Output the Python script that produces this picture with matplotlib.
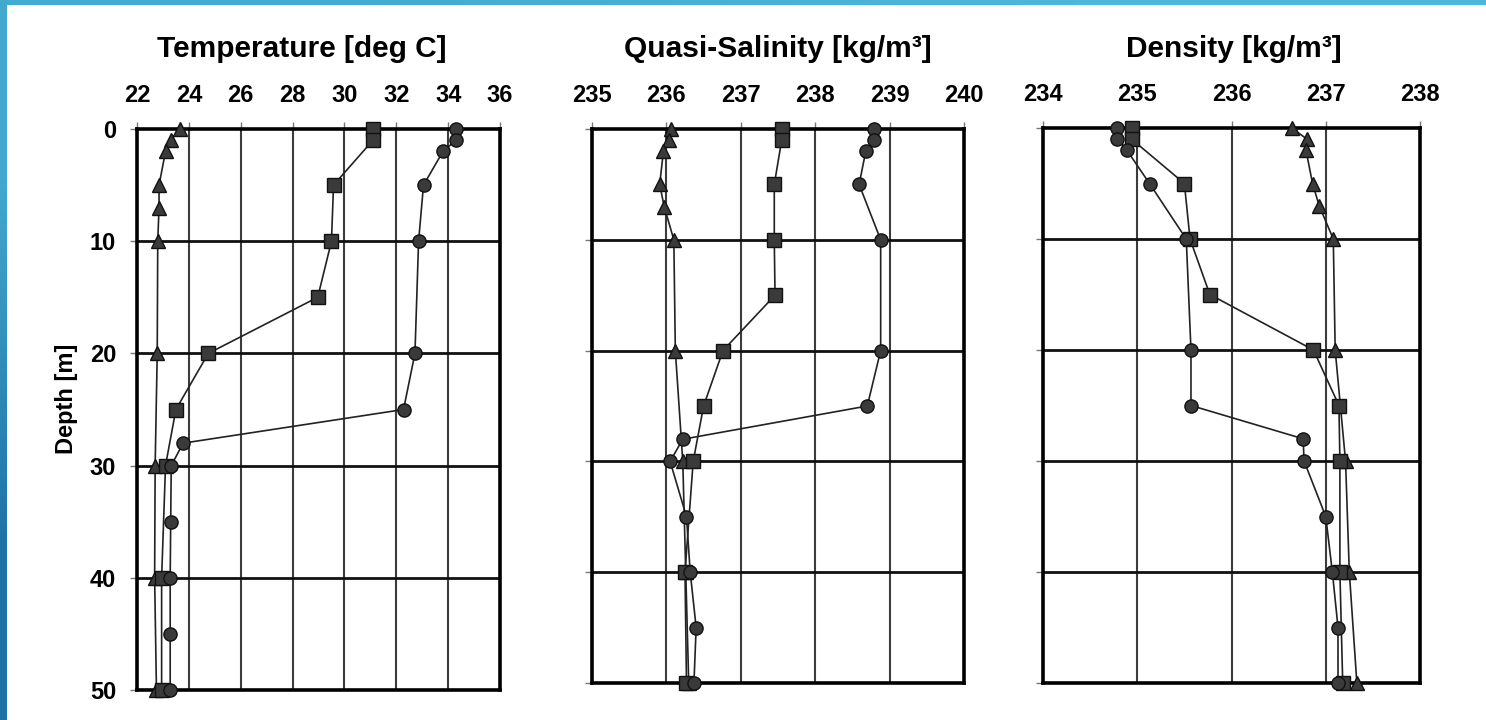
import numpy as np
import matplotlib
matplotlib.use("Agg")
import matplotlib.pyplot as plt

plt.rcParams['font.family'] = ['Liberation Sans', 'DejaVu Sans']
plt.rcParams['font.weight'] = 'bold'

# ---------------- data ----------------
# Temperature [deg C]
temp_tri_depth = [0, 1, 2, 5, 7, 10, 20, 30, 40, 50]
temp_tri_val = [23.65, 23.3, 23.1, 22.85, 22.85, 22.8, 22.78, 22.7, 22.68, 22.75]
temp_sq_depth = [0, 1, 5, 10, 15, 20, 25, 30, 40, 50]
temp_sq_val = [31.1, 31.1, 29.58, 29.5, 28.97, 24.75, 23.5, 23.1, 22.95, 22.95]
temp_ci_depth = [0, 1, 2, 5, 10, 20, 25, 28, 30, 35, 40, 45, 50]
temp_ci_val = [34.3, 34.3, 33.8, 33.05, 32.86, 32.72, 32.28, 23.78, 23.32, 23.3, 23.28, 23.28, 23.28]

# Quasi-Salinity [kg/m3]
sal_tri_depth = [0, 1, 2, 5, 7, 10, 20, 30, 40, 50]
sal_tri_val = [236.06, 236.03, 235.96, 235.91, 235.97, 236.1, 236.12, 236.22, 236.26, 236.3]
sal_sq_depth = [0, 1, 5, 10, 15, 20, 25, 30, 40, 50]
sal_sq_val = [237.55, 237.55, 237.45, 237.45, 237.46, 236.76, 236.5, 236.36, 236.25, 236.27]
sal_ci_depth = [0, 1, 2, 5, 10, 20, 25, 28, 30, 35, 40, 45, 50]
sal_ci_val = [238.79, 238.79, 238.68, 238.59, 238.88, 238.88, 238.7, 236.22, 236.05, 236.27, 236.32, 236.4, 236.37]

# Density [kg/m3]
den_tri_depth = [0, 1, 2, 5, 7, 10, 20, 30, 40, 50]
den_tri_val = [236.64, 236.8, 236.79, 236.86, 236.93, 237.08, 237.1, 237.21, 237.25, 237.33]
den_sq_depth = [0, 1, 5, 10, 15, 20, 25, 30, 40, 50]
den_sq_val = [234.94, 234.94, 235.5, 235.56, 235.77, 236.87, 237.14, 237.15, 237.15, 237.18]
den_ci_depth = [0, 1, 2, 5, 10, 20, 25, 28, 30, 35, 40, 45, 50]
den_ci_val = [234.79, 234.79, 234.89, 235.13, 235.52, 235.57, 235.57, 236.76, 236.77, 237.0, 237.07, 237.13, 237.13]

titles = ["Temperature [deg C]", "Quasi-Salinity [kg/m³]", "Density [kg/m³]"]
xticks_list = [[22, 24, 26, 28, 30, 32, 34, 36],
               [235, 236, 237, 238, 239, 240],
               [234, 235, 236, 237, 238]]
depth_ticks = [0, 10, 20, 30, 40, 50]

panels = [
    (temp_tri_val, temp_tri_depth, temp_sq_val, temp_sq_depth, temp_ci_val, temp_ci_depth),
    (sal_tri_val, sal_tri_depth, sal_sq_val, sal_sq_depth, sal_ci_val, sal_ci_depth),
    (den_tri_val, den_tri_depth, den_sq_val, den_sq_depth, den_ci_val, den_ci_depth),
]

# ---------------- figure ----------------
W, H = 1486, 720
fig = plt.figure(figsize=(W / 100, H / 100), dpi=100)
fig.patch.set_facecolor('white')

# slide frame: top bar and left gradient strip
top_ax = fig.add_axes([0, 1 - 5 / H, 1, 5 / H])
top_ax.imshow(np.array([[[0.27, 0.67, 0.82], [0.30, 0.72, 0.85]]]), aspect='auto',
              interpolation='bilinear', extent=[0, 1, 0, 1])
top_ax.axis('off')
left_ax = fig.add_axes([0, 0, 7 / W, 1])
left_ax.imshow(np.array([[[0.26, 0.66, 0.81]], [[0.12, 0.45, 0.66]]]), aspect='auto',
               interpolation='bilinear', extent=[0, 1, 0, 1])
left_ax.axis('off')

# axes boxes in pixels: (left, top, right, bottom)
boxes = [(137, 129, 500, 690), (592, 129, 964, 683), (1043, 128, 1420, 683)]
title_cx = [302, 778, 1234]

mk_face = '#3a3a3a'
line_col = '#222222'

for i, (box, title, xt, data) in enumerate(zip(boxes, titles, xticks_list, panels)):
    l, t, r, b = box
    ax = fig.add_axes([l / W, 1 - b / H, (r - l) / W, (b - t) / H])
    tv, td, sv, sd, cv, cd = data
    ax.plot(tv, td, '-', color=line_col, lw=1.2, marker='^', ms=9.5,
            mfc=mk_face, mec='#111111', mew=1.0, clip_on=False, zorder=5)
    ax.plot(sv, sd, '-', color=line_col, lw=1.2, marker='s', ms=9.5,
            mfc=mk_face, mec='#111111', mew=1.0, clip_on=False, zorder=5)
    ax.plot(cv, cd, '-', color=line_col, lw=1.2, marker='o', ms=9.5,
            mfc=mk_face, mec='#111111', mew=1.0, clip_on=False, zorder=5)

    ax.set_xlim(xt[0], xt[-1])
    ax.set_ylim(50, 0)
    ax.set_xticks(xt)
    ax.set_yticks(depth_ticks)
    ax.xaxis.tick_top()
    ax.tick_params(axis='x', direction='out', length=5, width=1, color='#777777',
                   pad=11, labelsize=17)
    ax.tick_params(axis='y', direction='out', length=5, width=1, color='#777777',
                   pad=10, labelsize=17)
    if i > 0:
        ax.set_yticklabels([])
    for lab in ax.get_xticklabels() + ax.get_yticklabels():
        lab.set_fontweight('bold')

    for x in xt[1:-1]:
        ax.axvline(x, color='#3c3c3c', lw=1.5, zorder=1)
    for y in depth_ticks[1:-1]:
        ax.axhline(y, color='#111111', lw=2.0, zorder=1)
    for sp in ax.spines.values():
        sp.set_linewidth(2.6)
        sp.set_color('black')
        sp.set_zorder(4)

    fig.text(title_cx[i] / W, 1 - 49 / H, title, ha='center', va='center',
             fontsize=21.5, fontweight='bold')

fig.text(66 / W, 1 - 399 / H, "Depth [m]", rotation=90, ha='center', va='center',
         fontsize=17, fontweight='bold')

fig.savefig('out.png', dpi=100, facecolor='white')
